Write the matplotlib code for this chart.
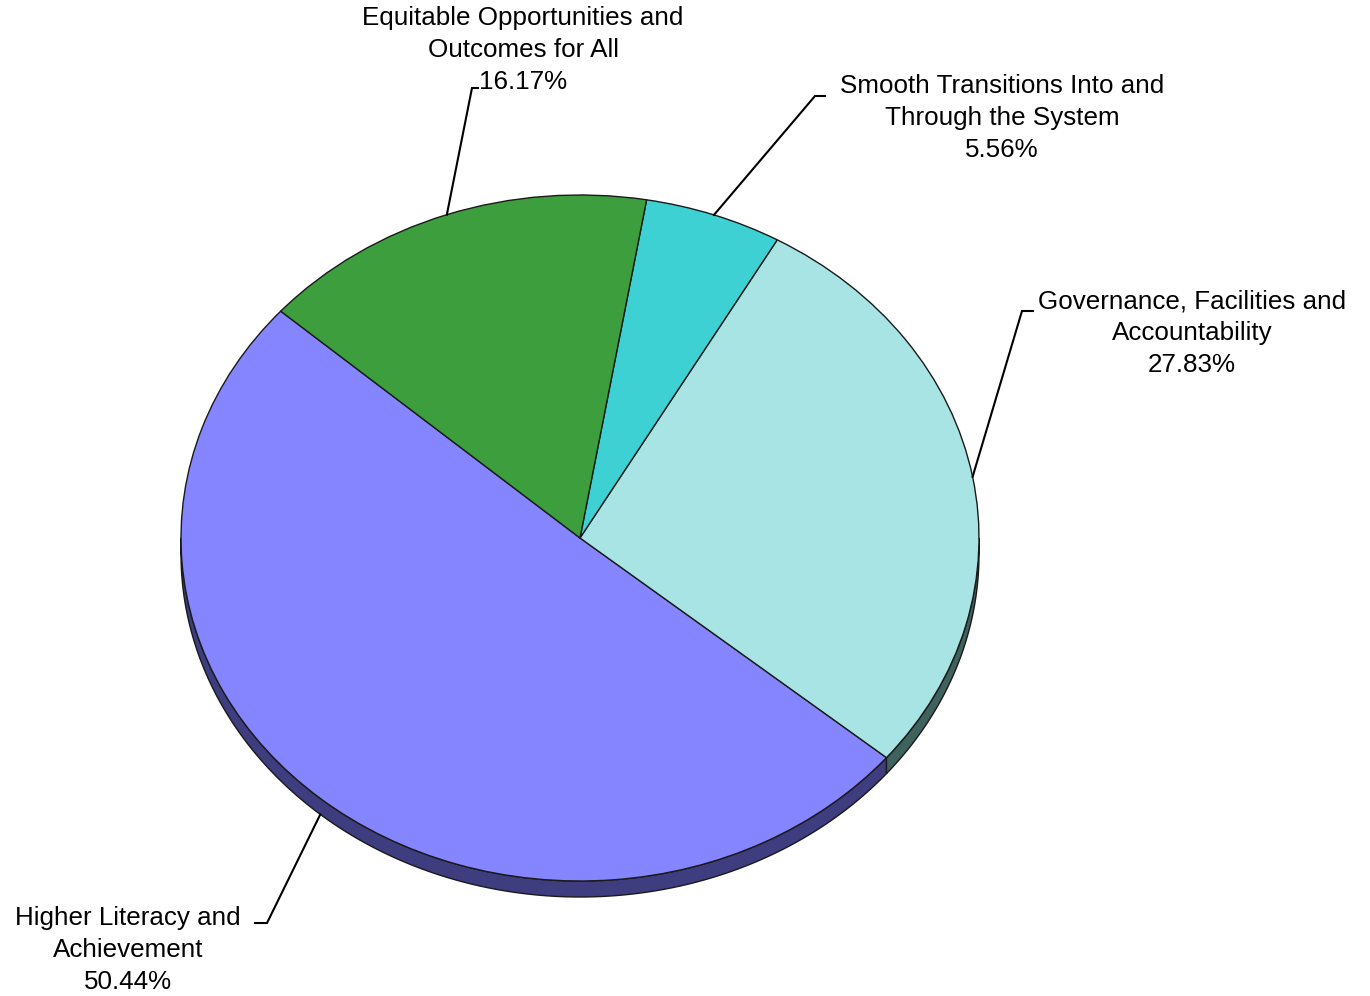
import numpy as np
import matplotlib
matplotlib.use("Agg")
import matplotlib.pyplot as plt
from matplotlib.patches import Polygon

# data
labels = ["Higher Literacy and\nAchievement",
          "Governance, Facilities and\nAccountability",
          "Smooth Transitions Into and\nThrough the System",
          "Equitable Opportunities and\nOutcomes for All"]
shares = [50.44, 27.83, 5.56, 16.17]

top_colors = ["#8585FF", "#A8E4E4", "#3DD1D3", "#3C9E3C"]
side_colors = ["#3D3D80", "#3F625F", "#1F6B6C", "#1F511F"]

# layout of the labels in pixels: text centre, elbow, tick end
label_pos = [(128, 950), (1192, 333), (1002, 118), (523, 50)]
elbow_pos = [(267, 923), (1022, 311), (815, 96), (472, 88)]
tick_end = [(255, 923), (1033, 311), (825, 96), (478, 88)]

W, H = 1370, 996
CX, CY, RX, RY = 580, 538, 399, 343
start = 138.6
depth = 16 / RY

plt.rcParams['font.family'] = ['Liberation Sans', 'DejaVu Sans']


def px(x, y):
    return (x - CX) / RX, (CY - y) / RY


fig = plt.figure(figsize=(W / 100, H / 100), dpi=100)
ax = fig.add_axes([0, 0, 1, 1])

# wedge angles
fr = np.array(shares) / sum(shares)
edges = start + 360 * np.concatenate([[0], np.cumsum(fr)])

# side band of the 3d pie (front half only)
for i in range(len(shares)):
    a0, a1 = edges[i], edges[i + 1]
    for lo, hi in [(180, 360), (540, 720)]:
        s, e = max(a0, lo), min(a1, hi)
        if e <= s:
            continue
        t = np.radians(np.linspace(s, e, 200))
        xs = np.cos(t)
        ys = np.sin(t)
        pts = np.column_stack([np.concatenate([xs, xs[::-1]]),
                               np.concatenate([ys, ys[::-1] - depth])])
        ax.add_patch(Polygon(pts, closed=True, facecolor=side_colors[i],
                             edgecolor="#1a1a1a", linewidth=1.0, zorder=1))

ax.pie(shares, colors=top_colors, startangle=start, counterclock=True,
       radius=1, wedgeprops=dict(edgecolor="#1a1a1a", linewidth=1.0, zorder=2))

# labels with leader lines
for i in range(len(shares)):
    mid = np.radians((edges[i] + edges[i + 1]) / 2)
    x0, y0 = np.cos(mid), np.sin(mid)
    if np.sin(mid) < 0:
        y0 -= depth
    ex, ey = px(*elbow_pos[i])
    tx, ty = px(*tick_end[i])
    ax.plot([x0, ex, tx], [y0, ey, ty], color="black", lw=1.5, zorder=3,
            solid_joinstyle="miter")
    lx, ly = px(*label_pos[i])
    ax.text(lx, ly, "%s\n%.2f%%" % (labels[i], shares[i]), ha="center",
            va="center", fontsize=18.7, linespacing=1.42, color="black")

ax.set_aspect("auto")
ax.set_xlim(px(0, 0)[0], px(W, 0)[0])
ax.set_ylim(px(0, H)[1], px(0, 0)[1])
ax.axis("off")

fig.savefig("out.png", dpi=100, facecolor="white")
